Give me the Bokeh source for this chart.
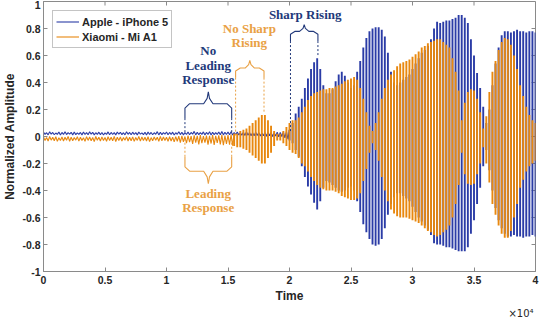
from bokeh.plotting import figure
from bokeh.models import FixedTicker, Range1d, Legend, LegendItem, Title
from bokeh.core.properties import value
from bokeh.embed import file_html
from bokeh.resources import INLINE

# ---------------- data ----------------
SAMPLE_STEP = 250          # time units between drawn oscillation lines

x_ticks = [0, 5000, 10000, 15000, 20000, 25000, 30000, 35000, 40000]
x_tick_labels = ["0", "0.5", "1", "1.5", "2", "2.5", "3", "3.5", "4"]
y_ticks = [-1, -0.8, -0.6, -0.4, -0.2, 0, 0.2, 0.4, 0.6, 0.8, 1]
y_tick_labels = ["-1", "-0.8", "-0.6", "-0.4", "-0.2", "0", "0.2", "0.4", "0.6", "0.8", "1"]

series_names = ["Apple - iPhone 5", "Xiaomi - Mi A1"]

# Apple: low-level noise, samples 0..79 (upper / lower excursion)
blue_noise_hi = [0.032, 0.028, 0.035, 0.03, 0.026, 0.033, 0.03, 0.036, 0.029, 0.031,
                 0.034, 0.027, 0.03, 0.033, 0.029, 0.035, 0.031, 0.028, 0.032, 0.03,
                 0.027, 0.034, 0.03, 0.029, 0.033, 0.031, 0.028, 0.035, 0.03, 0.032,
                 0.029, 0.033, 0.027, 0.031, 0.034, 0.03, 0.028, 0.036, 0.031, 0.029,
                 0.033, 0.03, 0.032, 0.028, 0.035, 0.031, 0.029, 0.034, 0.03, 0.038,
                 0.031, 0.029, 0.034, 0.03, 0.036, 0.032, 0.028, 0.033, 0.037, 0.031,
                 0.034, 0.036, 0.03, 0.033, 0.028, 0.031, 0.035, 0.03, 0.027, 0.032,
                 0.03, 0.026, 0.029, 0.033, 0.03, 0.028, 0.032, 0.03, 0.034, 0.038]
blue_noise_lo = [0.015, 0.012, 0.017, 0.013, 0.016, 0.011, 0.015, 0.014, 0.018, 0.012,
                 0.014, 0.016, 0.012, 0.015, 0.013, 0.017, 0.012, 0.015, 0.014, 0.011,
                 0.016, 0.013, 0.015, 0.012, 0.017, 0.014, 0.012, 0.016, 0.013, 0.015,
                 0.012, 0.017, 0.014, 0.011, 0.015, 0.013, 0.016, 0.012, 0.014, 0.017,
                 0.013, 0.015, 0.011, 0.016, 0.014, 0.012, 0.015, 0.013, 0.017, 0.012,
                 0.014, 0.016, 0.012, 0.015, 0.011, 0.014, 0.016, 0.013, 0.012, 0.015,
                 0.013, 0.011, 0.014, 0.012, 0.01, 0.008, 0.01, 0.006, 0.005, 0.008,
                 0.004, 0.006, 0.002, 0.005, 0.0, 0.003, -0.002, 0.0, -0.01, -0.02]
# Apple: oscillation envelope, samples 80..160
blue_hi = [0.05, 0.1, 0.17, 0.22, 0.28, 0.36, 0.43, 0.5, 0.55, 0.58,
           0.5, 0.38, 0.32, 0.32, 0.35, 0.41, 0.46, 0.48, 0.45, 0.4,
           0.36, 0.38, 0.48, 0.56, 0.66, 0.73, 0.78, 0.8, 0.81, 0.81,
           0.79, 0.74, 0.62, 0.48, 0.4, 0.38, 0.4, 0.42, 0.44, 0.46,
           0.5, 0.54, 0.58, 0.62, 0.64, 0.67, 0.72, 0.8, 0.85, 0.84,
           0.85, 0.86, 0.86, 0.87, 0.88, 0.9, 0.9, 0.88, 0.84, 0.72,
           0.6, 0.47, 0.36, 0.22, 0.1, 0.2, 0.38, 0.54, 0.66, 0.75,
           0.78, 0.78, 0.77, 0.78, 0.79, 0.78, 0.78, 0.77, 0.78, 0.78, 0.77]
blue_lo = [-0.03, -0.05, -0.1, -0.15, -0.22, -0.3, -0.37, -0.43, -0.49, -0.54,
           -0.48, -0.38, -0.33, -0.34, -0.36, -0.38, -0.4, -0.41, -0.4, -0.38,
           -0.37, -0.4, -0.48, -0.56, -0.65, -0.71, -0.76, -0.8, -0.81, -0.8,
           -0.76, -0.68, -0.58, -0.5, -0.45, -0.42, -0.42, -0.44, -0.46, -0.48,
           -0.52, -0.56, -0.6, -0.63, -0.66, -0.69, -0.73, -0.79, -0.8, -0.8,
           -0.81, -0.82, -0.82, -0.83, -0.84, -0.85, -0.85, -0.85, -0.82, -0.72,
           -0.62, -0.5, -0.38, -0.22, -0.1, -0.25, -0.4, -0.53, -0.62, -0.68,
           -0.72, -0.74, -0.74, -0.73, -0.74, -0.74, -0.75, -0.74, -0.74, -0.73, -0.74]

# Xiaomi: low-level noise, samples 0..61
orange_noise_hi = [-0.004, -0.008, 0.0, -0.006, -0.002, -0.009, -0.003, -0.006, 0.001, -0.005,
                   -0.007, -0.002, -0.005, -0.009, -0.001, -0.004, -0.007, 0.0, -0.006, -0.003,
                   -0.008, -0.002, -0.005, 0.001, -0.006, -0.004, -0.008, -0.001, -0.005, -0.003,
                   -0.007, 0.0, -0.004, -0.006, -0.002, -0.008, -0.003, -0.005, 0.001, -0.004,
                   -0.006, -0.002, -0.005, -0.001, 0.002, 0.005, 0.0, 0.006, 0.003, 0.008,
                   0.004, 0.01, 0.002, 0.007, 0.005, 0.011, 0.004, 0.008, 0.012, 0.006,
                   0.01, 0.014]
orange_noise_lo = [-0.03, -0.034, -0.027, -0.032, -0.036, -0.029, -0.033, -0.028, -0.035, -0.031,
                   -0.027, -0.034, -0.03, -0.036, -0.029, -0.032, -0.038, -0.028, -0.033, -0.03,
                   -0.035, -0.029, -0.032, -0.037, -0.03, -0.034, -0.028, -0.033, -0.031, -0.036,
                   -0.029, -0.034, -0.03, -0.033, -0.038, -0.031, -0.028, -0.035, -0.032, -0.03,
                   -0.036, -0.033, -0.04, -0.035, -0.045, -0.04, -0.05, -0.042, -0.055, -0.046,
                   -0.058, -0.05, -0.045, -0.06, -0.052, -0.062, -0.048, -0.058, -0.065, -0.055,
                   -0.06, -0.068]
# Xiaomi: oscillation envelope, samples 62..160
orange_hi = [0.02, 0.02, 0.04, 0.05, 0.06, 0.08, 0.1, 0.12, 0.14, 0.16,
             0.16, 0.12, 0.08, 0.04, 0.02, 0.02, 0.04, 0.07, 0.1, 0.12,
             0.12, 0.14, 0.18, 0.22, 0.27, 0.3, 0.32, 0.33, 0.34, 0.35,
             0.35, 0.36, 0.36, 0.37, 0.38, 0.39, 0.41, 0.42, 0.43, 0.44,
             0.42, 0.36, 0.28, 0.18, 0.08, 0.04, 0.1, 0.18, 0.28, 0.36,
             0.42, 0.46, 0.49, 0.52, 0.54, 0.55, 0.56, 0.57, 0.59, 0.61,
             0.63, 0.66, 0.67, 0.69, 0.7, 0.71, 0.72, 0.72, 0.7, 0.68,
             0.66, 0.58, 0.48, 0.34, 0.12, 0.25, 0.33, 0.35, 0.34, 0.28,
             0.18, 0.06, 0.15, 0.33, 0.48, 0.56, 0.64, 0.7, 0.73, 0.72,
             0.68, 0.6, 0.5, 0.38, 0.3, 0.22, 0.16, 0.12, 0.1]
orange_lo = [-0.07, -0.08, -0.08, -0.09, -0.1, -0.12, -0.14, -0.16, -0.18, -0.2,
             -0.2, -0.16, -0.12, -0.07, -0.03, -0.03, -0.05, -0.07, -0.1, -0.12,
             -0.13, -0.16, -0.2, -0.22, -0.26, -0.3, -0.33, -0.36, -0.38, -0.39,
             -0.4, -0.4, -0.4, -0.41, -0.42, -0.44, -0.45, -0.46, -0.47, -0.47,
             -0.46, -0.42, -0.33, -0.24, -0.12, -0.05, -0.1, -0.18, -0.3, -0.4,
             -0.48, -0.54, -0.57, -0.59, -0.6, -0.6, -0.6, -0.61, -0.62, -0.63,
             -0.64, -0.66, -0.68, -0.7, -0.71, -0.73, -0.74, -0.73, -0.71, -0.69,
             -0.66, -0.6, -0.5, -0.36, -0.12, -0.28, -0.35, -0.36, -0.35, -0.28,
             -0.2, -0.08, -0.2, -0.34, -0.5, -0.58, -0.66, -0.72, -0.75, -0.75,
             -0.7, -0.6, -0.5, -0.38, -0.32, -0.26, -0.22, -0.2, -0.18]

# annotation anchors (data units)
ann_text_blue = ["No", "Leading", "Response", "Sharp Rising"]
ann_text_blue_x = [13390, 13390, 13390, 21275]
ann_text_blue_y = [0.636, 0.529, 0.421, 0.907]
ann_text_orange = ["No Sharp", "Rising", "Leading", "Response"]
ann_text_orange_x = [16733, 16733, 13390, 13390]
ann_text_orange_y = [0.80, 0.693, -0.421, -0.529]
# braces: (x_start, x_end, y_side_end, y_bar, y_tip)
braces_blue = [(11500, 15300, 0.136, 0.243, 0.33), (20080, 22311, 0.707, 0.779, 0.829)]
braces_orange = [(15618, 17928, 0.436, 0.507, 0.564), (11500, 15300, -0.15, -0.257, -0.35)]
# dashed guide lines: (x, y_from, y_to)
dash_blue = [(11500, 0.136, 0.03), (15300, 0.136, 0.03), (20080, 0.707, 0.03), (22311, 0.707, 0.6)]
dash_orange = [(15618, 0.436, 0.0), (17928, 0.436, 0.17), (11500, -0.15, -0.02), (15300, -0.15, -0.02)]

BLUE = "#2b3ca6"
ORANGE = "#e8880f"
BLUE_TXT = "#22397a"
ORANGE_TXT = "#e9a145"
AXIS_GREY = "#8a8a8a"
LABEL_DARK = "#262626"

X0, X1, Y0, Y1 = 0, 40000, -1, 1
FIG_W, FIG_H = 542, 318
TICK_PX = 4

# ---------------- figure ----------------
p = figure(width=FIG_W, height=FIG_H, output_backend="svg", toolbar_location=None,
           x_range=Range1d(X0, X1), y_range=Range1d(Y0, Y1),
           min_border_left=4, min_border_right=7, min_border_top=1, min_border_bottom=0)
p.grid.visible = False
p.outline_line_color = AXIS_GREY
p.background_fill_color = "white"

for ax in p.xaxis + p.yaxis:
    ax.axis_line_color = AXIS_GREY
    ax.major_tick_line_color = AXIS_GREY
    ax.major_tick_in = TICK_PX
    ax.major_tick_out = 0
    ax.minor_tick_line_color = None
    ax.major_label_text_font = "Liberation Sans"
    ax.major_label_text_font_style = "bold"
    ax.major_label_text_font_size = "10.5px"
    ax.major_label_text_color = LABEL_DARK
    ax.axis_label_text_font = "Liberation Sans"
    ax.axis_label_text_font_style = "bold"
    ax.axis_label_text_font_size = "12px"
    ax.axis_label_text_color = LABEL_DARK
p.xaxis.ticker = FixedTicker(ticks=x_ticks)
p.yaxis.ticker = FixedTicker(ticks=y_ticks)
p.xaxis.major_label_overrides = dict(zip(x_ticks, x_tick_labels))
p.yaxis.major_label_overrides = dict(zip(y_ticks, y_tick_labels))
p.xaxis.axis_label = "Time"
p.yaxis.axis_label = "Normalized Amplitude"
p.xaxis.major_label_standoff = 4
p.yaxis.major_label_standoff = 3
p.xaxis.axis_label_standoff = 2
p.yaxis.axis_label_standoff = 2

# "x10^4" exponent note under the right end of the time axis
p.add_layout(Title(text="×10⁴", align="right", text_font="DejaVu Sans",
                   text_font_size="10px", text_font_style="normal",
                   text_color=LABEL_DARK, standoff=0, offset=2), "below")

# inward ticks on the top and right edges of the box (approximate frame size)
frame_w = FIG_W - 46
frame_h = FIG_H - 50
dx_tick = TICK_PX * (X1 - X0) / frame_w
dy_tick = TICK_PX * (Y1 - Y0) / frame_h
p.segment(x0=x_ticks, y0=[Y1] * len(x_ticks), x1=x_ticks, y1=[Y1 - dy_tick] * len(x_ticks),
          line_color=AXIS_GREY, line_width=1)
p.segment(x0=[X1] * len(y_ticks), y0=y_ticks, x1=[X1 - dx_tick] * len(y_ticks), y1=y_ticks,
          line_color=AXIS_GREY, line_width=1)

# ---------------- signals ----------------
def zigzag(hi, lo, start):
    xs, ys = [], []
    for i, (h, l) in enumerate(zip(hi, lo)):
        t = (start + i) * SAMPLE_STEP
        xs += [t, t + SAMPLE_STEP / 2]
        ys += [h, l]
    return xs, ys


bx, by = zigzag(blue_noise_hi, blue_noise_lo, 0)
bx.append(len(blue_noise_hi) * SAMPLE_STEP)
by.append(blue_hi[0])
b_line = p.line(bx, by, line_color=BLUE, line_width=1.1)
bt = [(len(blue_noise_hi) + i) * SAMPLE_STEP for i in range(len(blue_hi))]
p.segment(x0=bt, y0=blue_lo, x1=bt, y1=blue_hi, line_color=BLUE, line_width=1.9)

ox, oy = zigzag(orange_noise_hi, orange_noise_lo, 0)
ox.append(len(orange_noise_hi) * SAMPLE_STEP)
oy.append(orange_hi[0])
o_line = p.line(ox, oy, line_color=ORANGE, line_width=1.1)
ot = [(len(orange_noise_hi) + i) * SAMPLE_STEP for i in range(len(orange_hi))]
p.segment(x0=ot, y0=orange_lo, x1=ot, y1=orange_hi, line_color=ORANGE, line_width=1.9)

# ---------------- annotations ----------------
def brace(x0, x1, yb, ybar, ytip, color):
    xm = (x0 + x1) / 2
    dx = 380
    d = (ybar - yb) * 0.3
    xs = [x0, x0, x0 + dx, xm - dx, xm - dx * 0.25, xm, xm + dx * 0.25, xm + dx, x1 - dx, x1, x1]
    ys = [yb, ybar - d, ybar, ybar, ybar + (ytip - ybar) * 0.45, ytip,
          ybar + (ytip - ybar) * 0.45, ybar, ybar, ybar - d, yb]
    p.line(xs, ys, line_color=color, line_width=1.1)


for b in braces_blue:
    brace(*b, BLUE_TXT)
for b in braces_orange:
    brace(*b, ORANGE_TXT)

p.segment(x0=[d[0] for d in dash_blue], y0=[d[1] for d in dash_blue],
          x1=[d[0] for d in dash_blue], y1=[d[2] for d in dash_blue],
          line_color=BLUE_TXT, line_width=1, line_dash="2 2")
p.segment(x0=[d[0] for d in dash_orange], y0=[d[1] for d in dash_orange],
          x1=[d[0] for d in dash_orange], y1=[d[2] for d in dash_orange],
          line_color=ORANGE_TXT, line_width=1, line_dash="2 2")

p.text(x=ann_text_blue_x, y=ann_text_blue_y, text=ann_text_blue,
       text_font=value("Liberation Serif"), text_font_style="bold",
       text_font_size=value("13px"), text_color=BLUE_TXT,
       text_align="center", text_baseline="middle")
p.text(x=ann_text_orange_x, y=ann_text_orange_y, text=ann_text_orange,
       text_font=value("Liberation Serif"), text_font_style="bold",
       text_font_size=value("13px"), text_color=ORANGE_TXT,
       text_align="center", text_baseline="middle")

legend = Legend(items=[LegendItem(label=series_names[0], renderers=[b_line]),
                       LegendItem(label=series_names[1], renderers=[o_line])],
                location="top_left")
legend.label_text_font = "Liberation Sans"
legend.label_text_font_style = "bold"
legend.label_text_font_size = "11px"
legend.label_text_color = LABEL_DARK
legend.border_line_color = AXIS_GREY
legend.margin = 9
legend.padding = 3
legend.spacing = 0
legend.glyph_width = 23
legend.glyph_height = 15
legend.label_height = 15
legend.label_standoff = 3
p.add_layout(legend)

open("out.html", "w").write(file_html(p, INLINE))
